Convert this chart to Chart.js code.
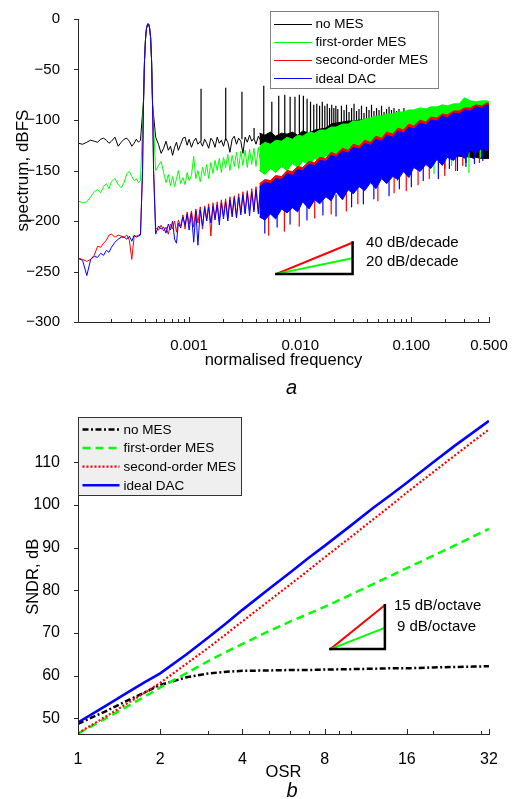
<!DOCTYPE html>
<html>
<head>
<meta charset="utf-8">
<script src="https://cdn.jsdelivr.net/npm/chart.js@4.4.1/dist/chart.umd.min.js"></script>
<style>
  html, body { margin:0; padding:0; background:#ffffff; }
  .box { position:absolute; left:0; width:517px; }
</style>
</head>
<body>
<div class="box" style="top:0;height:400px"><canvas id="chartA" width="517" height="400"></canvas></div>
<div class="box" style="top:400px;height:399px"><canvas id="chartB" width="517" height="399"></canvas></div>
<script>
const FONT = '"Liberation Sans", Arial, Helvetica, sans-serif';

// ---------- shared legend ----------
const seriesNames = ['no MES', 'first-order MES', 'second-order MES', 'ideal DAC'];
const seriesColors = ['#000000', '#00ff00', '#ff0000', '#0000ff'];

// ---------- panel a : spectrum ----------
// low-frequency region, below the signal tone
const lowF = [1.0e-4,1.1e-4,1.2e-4,1.3e-4,1.4e-4,1.5e-4,1.6e-4,1.7e-4,1.8e-4,1.9e-4,2.0e-4,2.15e-4,2.3e-4,2.45e-4,2.6e-4,2.75e-4,2.9e-4,3.05e-4,3.2e-4,3.35e-4,3.5e-4,3.65e-4];
const lowNoMES  = [-123,-124,-122,-120,-121,-122,-119,-118,-120,-123,-121,-117,-126,-122,-119,-118,-121,-126,-123,-119,-122,-120];
const lowFirst  = [-180,-182,-181,-176,-171,-169,-172,-166,-163,-168,-161,-158,-164,-167,-162,-153,-151,-156,-160,-158,-162,-160];
const lowSecond = [-237,-238,-240,-238,-234,-225,-226,-222,-219,-214,-213,-216,-214,-215,-216,-214,-219,-238,-215,-215,-214,-213];
const lowIdeal  = [-237,-239,-254,-238,-235,-236,-232,-234,-229,-231,-226,-221,-218,-216,-216,-218,-215,-220,-214,-216,-215,-214];

// signal tone (shared by all four spectra)
const peakF  = [3.81e-4,3.89e-4,3.97e-4,4.06e-4,4.14e-4,4.23e-4,4.32e-4,4.41e-4,4.50e-4,4.59e-4,4.69e-4,4.79e-4];
const peakDb = [-150,-80,-40,-18,-9,-5,-5,-9,-18,-40,-85,-150];

// region just above the tone
const midF = [5.0e-4,5.3e-4,5.6e-4,5.9e-4,6.2e-4,6.5e-4,6.8e-4,7.1e-4,7.4e-4,7.7e-4,8.0e-4,8.4e-4,8.8e-4,9.2e-4,9.6e-4,1.0e-3,1.05e-3,1.1e-3,1.15e-3,1.2e-3,1.26e-3,1.32e-3,1.38e-3,1.44e-3,1.5e-3,1.57e-3,1.64e-3,1.71e-3,1.79e-3,1.87e-3,1.95e-3,2.04e-3,2.13e-3,2.23e-3,2.33e-3,2.44e-3,2.55e-3,2.67e-3,2.79e-3,2.92e-3,3.05e-3,3.19e-3,3.34e-3,3.5e-3,3.66e-3,3.83e-3,4.0e-3,4.2e-3,4.4e-3];
const midNoMES  = [-117,-124,-133,-128,-121,-130,-126,-135,-127,-122,-130,-124,-118,-117,-125,-119,-127,-121,-118,-124,-121,-126,-119,-123,-128,-118,-121,-127,-117,-123,-120,-126,-118,-122,-132,-119,-116,-124,-118,-121,-133,-117,-122,-115,-121,-118,-124,-116,-120];
const midFirst  = [-150,-145,-141,-152,-162,-154,-165,-156,-166,-158,-150,-163,-157,-164,-152,-160,-155,-136,-158,-150,-161,-147,-155,-144,-158,-142,-153,-140,-150,-138,-152,-137,-147,-134,-150,-135,-146,-132,-148,-131,-145,-130,-147,-129,-144,-128,-146,-127,-143];
const midSecond = [-207,-209,-204,-210,-206,-213,-203,-208,-200,-211,-199,-205,-194,-208,-191,-203,-190,-206,-188,-202,-186,-208,-185,-198,-183,-215,-182,-197,-181,-200,-179,-195,-178,-197,-176,-193,-175,-196,-173,-191,-171,-192,-170,-190,-168,-189,-166,-191,-165];
const midIdeal  = [-213,-205,-208,-206,-212,-203,-209,-200,-218,-222,-202,-207,-196,-204,-193,-209,-192,-221,-190,-224,-189,-205,-187,-200,-186,-202,-185,-199,-184,-204,-182,-198,-181,-200,-179,-196,-177,-197,-176,-194,-174,-193,-172,-195,-171,-191,-169,-193,-167];

// dense high-frequency region: upper and lower edges of each noise band
const bandF = [4.3e-3,4.8e-3,5.4e-3,6.0e-3,6.8e-3,7.6e-3,8.5e-3,9.5e-3,0.0105,0.012,0.0135,0.015,0.017,0.019,0.021,0.024,0.027,0.030,0.034,0.038,0.043,0.048,0.054,0.060,0.068,0.076,0.085,0.095,0.105,0.12,0.135,0.15,0.17,0.19,0.21,0.24,0.27,0.30,0.34,0.38,0.43,0.48,0.5];
const bandNoMESTop    = [-113,-115,-112,-116,-113,-114,-112,-115,-111,-113,-110,-109,-108,-104,-103,-102,-101,-101,-100,-100,-99,-99,-98,-98,-97,-97,-96,-96,-100,-104,-106,-106,-108,-108,-110,-110,-112,-112,-114,-114,-116,-116,-117];
const bandNoMESBottom = [-124,-126,-123,-126,-124,-126,-123,-125,-122,-125,-123,-124,-122,-120,-121,-119,-120,-118,-119,-117,-118,-117,-118,-118,-120,-122,-124,-126,-128,-130,-131,-132,-133,-134,-135,-135,-136,-136,-137,-137,-138,-138,-138];
const bandFirstTop    = [-126,-122,-124,-120,-121,-117,-119,-115,-116,-112,-113,-110,-110,-107,-107,-104,-104,-101,-101,-99,-98,-96,-96,-94,-94,-92,-92,-90,-90,-88,-89,-87,-87,-85,-86,-84,-84,-78,-81,-82,-81,-81,-82];
const bandFirstBottom = [-150,-154,-148,-152,-146,-150,-143,-147,-141,-144,-138,-141,-135,-138,-132,-135,-129,-132,-126,-128,-123,-125,-120,-122,-117,-119,-114,-116,-111,-113,-108,-110,-105,-107,-102,-104,-99,-101,-97,-99,-95,-97,-95];
const bandSecondTop   = [-163,-159,-160,-155,-156,-150,-151,-146,-147,-141,-142,-137,-138,-132,-134,-128,-130,-124,-126,-120,-122,-116,-118,-112,-114,-108,-110,-104,-106,-100,-102,-97,-98,-94,-95,-91,-91,-88,-88,-85,-86,-83,-84];
const bandSecondBottom= [-192,-196,-188,-193,-184,-190,-182,-186,-178,-184,-174,-180,-171,-177,-168,-174,-165,-170,-161,-167,-158,-163,-155,-160,-151,-156,-147,-152,-143,-148,-139,-144,-136,-140,-132,-137,-129,-133,-126,-130,-124,-127,-123];
const bandIdealTop    = [-166,-162,-163,-158,-159,-153,-155,-149,-150,-144,-145,-140,-141,-135,-137,-131,-133,-127,-129,-123,-125,-119,-121,-115,-117,-111,-113,-107,-109,-103,-105,-100,-101,-96,-98,-93,-94,-90,-91,-87,-88,-85,-86];
const bandIdealBottom = [-196,-199,-193,-198,-188,-192,-187,-191,-181,-188,-179,-183,-176,-180,-171,-179,-169,-173,-166,-170,-162,-168,-158,-163,-156,-159,-151,-157,-147,-151,-144,-148,-139,-145,-137,-140,-133,-138,-130,-133,-128,-131,-127];

// isolated spikes: frequency, tip and foot of each spike
const spurNoMESF    = [1.281e-3,2.135e-3,2.989e-3,3.843e-3,4.697e-3,5.551e-3,6.405e-3,7.259e-3,8.113e-3,8.967e-3,9.82e-3,1.0675e-2,1.153e-2,1.238e-2,1.324e-2,1.409e-2,1.494e-2,1.58e-2,1.665e-2,1.75e-2,1.836e-2,1.921e-2,2.007e-2,2.092e-2,2.178e-2,
                       0.0235,0.0248,0.0261,0.0275,0.029,0.0305,0.0321,0.0338,0.0356,0.0375,0.0395,0.0416,0.0438,0.0461,0.0486,0.0512,0.0539,0.0568,0.0598,0.063,0.0663,0.0698,0.0735,0.0774,0.0815,0.0858,0.0904,0.0952,0.1003,
                       0.2,0.26,0.31,0.36,0.45];
const spurNoMESTip  = [-69,-68,-72,-108,-66,-82,-76,-75,-77,-77,-75,-76,-79,-82,-85,-84,-86,-82,-86,-84,-88,-85,-88,-86,-89,
                       -86,-90,-85,-92,-88,-84,-91,-89,-86,-93,-87,-90,-85,-91,-88,-90,-86,-92,-89,-87,-90,-88,-91,-89,-92,-88,-91,-90,-93,
                       -148,-140,-142,-138,-134];
const spurNoMESFoot = [-121,-120,-119,-118,-116,-116,-115,-115,-114,-114,-113,-113,-112,-112,-111,-111,-110,-110,-109,-109,-108,-106,-105,-105,-105,
                       -106,-106,-106,-106,-106,-106,-106,-106,-106,-106,-106,-106,-106,-106,-106,-106,-106,-106,-106,-106,-106,-106,-106,-106,-106,-106,-106,-106,-106,
                       -136,-133,-132,-130,-128];
const spurFirstF    = [0.075,0.16,0.23,0.33,0.42];
const spurFirstTip  = [-160,-153,-145,-152,-137];
const spurFirstFoot = [-150,-140,-135,-132,-129];
const spurSecondF   = [0.0052,0.0072,0.0098,0.0135,0.019,0.026,0.033,0.05,0.07,0.09,0.115,0.145,0.2,0.25,0.29,0.41];
const spurSecondTip = [-214,-210,-205,-197,-193,-190,-183,-180,-172,-170,-164,-158,-155,-150,-145,-142];
const spurSecondFoot= [-195,-190,-185,-180,-176,-170,-168,-163,-158,-152,-148,-145,-138,-135,-134,-130];
const spurIdealF    = [0.0048,0.0062,0.0081,0.0115,0.016,0.021,0.029,0.037,0.046,0.063,0.078,0.10,0.128,0.175,0.22,0.26,0.31,0.37,0.44];
const spurIdealTip  = [-212,-206,-203,-199,-194,-195,-186,-183,-178,-175,-168,-166,-160,-158,-148,-150,-146,-143,-140];
const spurIdealFoot = [-198,-193,-188,-185,-180,-174,-170,-166,-163,-160,-155,-150,-147,-140,-137,-135,-133,-131,-129];

// axis ticks, panel a
const aXLabels = [0.001, 0.01, 0.1, 0.5];
const aXMinor  = [2e-4,3e-4,4e-4,5e-4,6e-4,7e-4,8e-4,9e-4,2e-3,3e-3,4e-3,5e-3,6e-3,7e-3,8e-3,9e-3,0.02,0.03,0.04,0.05,0.06,0.07,0.08,0.09,0.2,0.3,0.4];
const aYTicks  = [-300,-250,-200,-150,-100,-50,0];
// slope guide (data units)
const aGuideF  = [6.1e-3, 0.0296];
const aGuideDb = [-252.4, -221.4, -236.9]; // base, 40 dB/decade end, 20 dB/decade end
const aGuideText = ['40 dB/decade', '20 dB/decade'];

// ---------- panel b : SNDR vs OSR ----------
const osrValues      = [1,1.25,1.5,1.75,2,2.5,3,3.5,4,5,6,7,8,10,12,14,16,20,24,28,32];
const sndrNoMES      = [48.7,51.5,54.0,56.0,57.8,59.6,60.5,60.9,61.1,61.2,61.3,61.3,61.4,61.5,61.6,61.7,61.7,61.9,62.0,62.1,62.2];
const sndrFirstOrder = [46.4,49.8,52.6,55.0,57.2,60.6,63.4,65.6,67.4,70.4,72.7,74.5,76.1,79.0,81.4,83.4,85.2,88.1,90.5,92.6,94.4];
const sndrSecondOrder= [46.5,50.2,53.3,55.9,58.3,62.8,66.5,69.8,72.7,77.5,81.4,84.7,87.7,92.5,96.5,99.9,102.9,107.7,111.6,114.9,117.7];
const sndrIdeal      = [49.0,52.7,55.8,58.4,60.5,65.0,68.9,72.3,75.4,80.3,84.2,87.6,90.4,95.2,99.2,102.4,105.2,110.0,113.9,117.0,119.7];
const bXLabels = [1, 2, 4, 8, 16, 32];
const bXMinor  = [3, 5, 6, 7, 9, 10, 20, 30];
const bYTicks  = [50, 60, 70, 80, 90, 100, 110];
const bGuideOsr = [8.4, 13.3];
const bGuideDb  = [66.2, 76.5, 71.2]; // base, 15 dB/octave end, 9 dB/octave end
const bGuideText = ['15 dB/octave', '9 dB/octave'];

// ---------- helpers ----------
const xy = (fs, ys) => fs.map((f, i) => ({x: f, y: ys[i]}));
function trace(low, mid) {
  const pts = xy(lowF, low);
  const floor = Math.max(low[low.length - 1], mid[0]);
  peakF.forEach((f, i) => { if (peakDb[i] > floor) pts.push({x: f, y: peakDb[i]}); });
  return pts.concat(xy(midF, mid));
}
function spikes(fs, tips, feet) {
  const pts = [];
  fs.forEach((f, i) => { pts.push({x: f, y: feet[i]}, {x: f, y: tips[i]}, {x: f, y: null}); });
  return pts;
}
const minus = v => (v < 0 ? '\u2212' + Math.abs(v) : String(v));

// ---------- panel a datasets ----------
const dsA = [];
function addSpectrum(k, low, mid, top, bottom, spk) {
  const c = seriesColors[k];
  const common = {borderColor: c, backgroundColor: c, borderWidth: 1, pointRadius: 0, order: 3 - k, tension: 0, spanGaps: false};
  const topIdx = dsA.length;
  dsA.push({...common, data: xy(bandF, top), fill: false});
  dsA.push({...common, data: xy(bandF, bottom), fill: topIdx});
  dsA.push({...common, data: trace(low, mid), fill: false});
  dsA.push({...common, data: spk, fill: false, borderWidth: 1.2});
}
addSpectrum(0, lowNoMES, midNoMES, bandNoMESTop, bandNoMESBottom, spikes(spurNoMESF, spurNoMESTip, spurNoMESFoot));
addSpectrum(1, lowFirst, midFirst, bandFirstTop, bandFirstBottom, spikes(spurFirstF, spurFirstTip, spurFirstFoot));
addSpectrum(2, lowSecond, midSecond, bandSecondTop, bandSecondBottom, spikes(spurSecondF, spurSecondTip, spurSecondFoot));
addSpectrum(3, lowIdeal, midIdeal, bandIdealTop, bandIdealBottom, spikes(spurIdealF, spurIdealTip, spurIdealFoot));

function drawAxes(chart, yTicks, xMajor, xMinor) {
  const {ctx, chartArea: a, scales: {x, y}} = chart;
  ctx.save();
  ctx.strokeStyle = '#262626';
  ctx.lineWidth = 1;
  ctx.beginPath();
  ctx.moveTo(a.left + 0.5, a.top);
  ctx.lineTo(a.left + 0.5, a.bottom + 0.5);
  ctx.lineTo(a.right + 0.5, a.bottom + 0.5);
  yTicks.forEach(v => { const p = Math.round(y.getPixelForValue(v)) + 0.5; ctx.moveTo(a.left - 4, p); ctx.lineTo(a.left + 0.5, p); });
  xMajor.forEach(v => { const p = Math.round(x.getPixelForValue(v)) + 0.5; ctx.moveTo(p, a.bottom + 1); ctx.lineTo(p, a.bottom - 5); });
  xMinor.forEach(v => { const p = Math.round(x.getPixelForValue(v)) + 0.5; ctx.moveTo(p, a.bottom + 0.5); ctx.lineTo(p, a.bottom - 3); });
  ctx.stroke();
  ctx.restore();
}

const panelAPlugin = {
  id: 'panelA',
  afterDraw(chart) {
    const {ctx, chartArea: a, scales: {x, y}} = chart;
    drawAxes(chart, aYTicks, aXLabels, aXMinor);
    ctx.save();
    // legend
    ctx.fillStyle = '#ffffff';
    ctx.fillRect(270.5, 11.5, 168, 77);
    ctx.strokeStyle = '#7f7f7f';
    ctx.lineWidth = 1;
    ctx.strokeRect(270.5, 11.5, 168, 77);
    ctx.font = '13.5px ' + FONT;
    ctx.textAlign = 'left';
    ctx.textBaseline = 'middle';
    seriesNames.forEach((n, i) => {
      const yy = 23.5 + i * 18.3;
      ctx.strokeStyle = seriesColors[i];
      ctx.lineWidth = 1;
      ctx.beginPath(); ctx.moveTo(274, Math.round(yy) + 0.5); ctx.lineTo(312, Math.round(yy) + 0.5); ctx.stroke();
      ctx.fillStyle = '#000';
      ctx.fillText(n, 315.5, yy + 0.5);
    });
    // slope guide
    const x0 = x.getPixelForValue(aGuideF[0]), x1 = x.getPixelForValue(aGuideF[1]);
    const yb = y.getPixelForValue(aGuideDb[0]), yr = y.getPixelForValue(aGuideDb[1]), yg = y.getPixelForValue(aGuideDb[2]);
    ctx.lineCap = 'square';
    ctx.strokeStyle = '#ff0000'; ctx.lineWidth = 2;
    ctx.beginPath(); ctx.moveTo(x0, yb); ctx.lineTo(x1, yr); ctx.stroke();
    ctx.strokeStyle = '#00ff00';
    ctx.beginPath(); ctx.moveTo(x0, yb); ctx.lineTo(x1, yg); ctx.stroke();
    ctx.strokeStyle = '#000'; ctx.lineWidth = 2.5;
    ctx.beginPath(); ctx.moveTo(x0, yb); ctx.lineTo(x1, yb); ctx.lineTo(x1, yr); ctx.stroke();
    ctx.fillStyle = '#000';
    ctx.font = '15px ' + FONT;
    ctx.fillText(aGuideText[0], x1 + 13.5, yr);
    ctx.fillText(aGuideText[1], x1 + 13.5, yg + 3.5);
    // caption
    ctx.font = 'italic 20px ' + FONT;
    ctx.textAlign = 'center';
    ctx.textBaseline = 'alphabetic';
    ctx.fillText('a', (a.left + a.right) / 2 + 8, 393.5);
    ctx.restore();
  }
};

new Chart(document.getElementById('chartA'), {
  type: 'line',
  data: {datasets: dsA},
  options: {
    responsive: false, animation: false, devicePixelRatio: 1,
    layout: {padding: {left: 13, right: 28, top: 12, bottom: 30}},
    plugins: {legend: {display: false}, tooltip: {enabled: false}},
    elements: {line: {borderJoinStyle: 'round'}},
    scales: {
      x: {
        type: 'logarithmic', min: 1e-4, max: 0.5,
        grid: {display: false}, border: {display: false},
        afterBuildTicks: s => { s.ticks = aXLabels.map(v => ({value: v})); },
        afterFit: s => { s.height = 48; },
        ticks: {font: {family: FONT, size: 15}, color: '#000', padding: 7, autoSkip: false, maxRotation: 0, minRotation: 0,
                callback: v => Number(v).toFixed(3)},
        title: {display: true, text: 'normalised frequency', font: {family: FONT, size: 16.5}, color: '#000', padding: 0}
      },
      y: {
        type: 'linear', min: -300, max: 0,
        grid: {display: false}, border: {display: false},
        afterBuildTicks: s => { s.ticks = aYTicks.map(v => ({value: v})); },
        afterFit: s => { s.width = 65; },
        ticks: {font: {family: FONT, size: 15}, color: '#000', padding: 10, callback: v => minus(v)},
        title: {display: true, text: 'spectrum, dBFS', font: {family: FONT, size: 17}, color: '#000', padding: 0}
      }
    }
  },
  plugins: [panelAPlugin]
});

// ---------- panel b ----------
const bStyles = [
  {dash: [6, 2.5, 2, 2.5], width: 2.5},
  {dash: [8, 5], width: 2.5},
  {dash: [2, 2], width: 2.2},
  {dash: [], width: 2.6}
];
const sndrSeries = [sndrNoMES, sndrFirstOrder, sndrSecondOrder, sndrIdeal];
const dsB = sndrSeries.map((vals, k) => ({
  data: xy(osrValues, vals),
  borderColor: seriesColors[k], backgroundColor: seriesColors[k],
  borderWidth: bStyles[k].width, borderDash: bStyles[k].dash,
  pointRadius: 0, fill: false, tension: 0, order: 3 - k
}));

const panelBPlugin = {
  id: 'panelB',
  afterDraw(chart) {
    const {ctx, chartArea: a, scales: {x, y}} = chart;
    drawAxes(chart, bYTicks, bXLabels, bXMinor);
    ctx.save();
    // legend
    ctx.fillStyle = '#efefef';
    ctx.fillRect(78.5, 17.5, 163, 78);
    ctx.strokeStyle = '#333333';
    ctx.lineWidth = 1;
    ctx.strokeRect(78.5, 17.5, 163, 78);
    ctx.font = '13.5px ' + FONT;
    ctx.textAlign = 'left';
    ctx.textBaseline = 'middle';
    seriesNames.forEach((n, i) => {
      const yy = 29.5 + i * 18.6;
      ctx.strokeStyle = seriesColors[i];
      ctx.lineWidth = bStyles[i].width;
      ctx.setLineDash(bStyles[i].dash);
      ctx.beginPath(); ctx.moveTo(82.5, yy); ctx.lineTo(119.5, yy); ctx.stroke();
      ctx.setLineDash([]);
      ctx.fillStyle = '#000';
      ctx.fillText(n, 123.5, yy + 0.5);
    });
    // slope guide
    const x0 = x.getPixelForValue(bGuideOsr[0]), x1 = x.getPixelForValue(bGuideOsr[1]);
    const yb = y.getPixelForValue(bGuideDb[0]), yr = y.getPixelForValue(bGuideDb[1]), yg = y.getPixelForValue(bGuideDb[2]);
    ctx.lineCap = 'square';
    ctx.strokeStyle = '#ff0000'; ctx.lineWidth = 2;
    ctx.beginPath(); ctx.moveTo(x0, yb); ctx.lineTo(x1, yr); ctx.stroke();
    ctx.strokeStyle = '#00ff00';
    ctx.beginPath(); ctx.moveTo(x0, yb); ctx.lineTo(x1, yg); ctx.stroke();
    ctx.strokeStyle = '#000'; ctx.lineWidth = 2.5;
    ctx.beginPath(); ctx.moveTo(x0, yb); ctx.lineTo(x1, yb); ctx.lineTo(x1, yr); ctx.stroke();
    ctx.fillStyle = '#000';
    ctx.font = '15px ' + FONT;
    ctx.fillText(bGuideText[0], x1 + 9, yr + 1);
    ctx.fillText(bGuideText[1], x1 + 12, yg - 0.5);
    // caption
    ctx.font = 'italic 20px ' + FONT;
    ctx.textAlign = 'center';
    ctx.textBaseline = 'alphabetic';
    ctx.fillText('b', (a.left + a.right) / 2 + 8.5, 396.5);
    ctx.restore();
  }
};

new Chart(document.getElementById('chartB'), {
  type: 'line',
  data: {datasets: dsB},
  options: {
    responsive: false, animation: false, devicePixelRatio: 1,
    layout: {padding: {left: 24, right: 28, top: 16, bottom: 17}},
    plugins: {legend: {display: false}, tooltip: {enabled: false}},
    scales: {
      x: {
        type: 'logarithmic', min: 1, max: 32,
        grid: {display: false}, border: {display: false},
        afterBuildTicks: s => { s.ticks = bXLabels.map(v => ({value: v})); },
        afterFit: s => { s.height = 48; },
        ticks: {font: {family: FONT, size: 16}, color: '#000', padding: 8, autoSkip: false, maxRotation: 0, minRotation: 0,
                callback: v => String(Math.round(v))},
        title: {display: true, text: 'OSR', font: {family: FONT, size: 16.5}, color: '#000', padding: 0}
      },
      y: {
        type: 'linear', min: 46.3, max: 120,
        grid: {display: false}, border: {display: false},
        afterBuildTicks: s => { s.ticks = bYTicks.map(v => ({value: v})); },
        afterFit: s => { s.width = 54; },
        ticks: {font: {family: FONT, size: 16}, color: '#000', padding: 10},
        title: {display: true, text: 'SNDR, dB', font: {family: FONT, size: 16.5}, color: '#000', padding: 0}
      }
    }
  },
  plugins: [panelBPlugin]
});
</script>
</body>
</html>
